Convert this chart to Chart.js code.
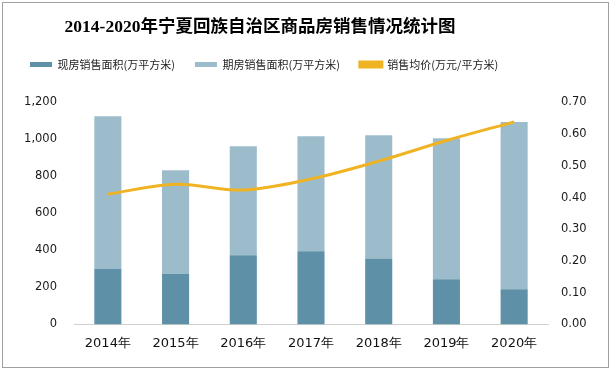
<!DOCTYPE html>
<html>
<head>
<meta charset="utf-8">
<script src="https://cdn.jsdelivr.net/npm/chart.js@4.4.0/dist/chart.umd.min.js"></script>
<style>
  body { margin: 0; background: #fff; }
  #wrap { position: absolute; left: 2px; top: 2px; width: 605px; height: 364px; border: 1px solid #a0a0a0; }
</style>
</head>
<body>
<div id="wrap"><canvas id="myChart" width="605" height="364"></canvas></div>
<script>
const years = ["2014年", "2015年", "2016年", "2017年", "2018年", "2019年", "2020年"];
// 现房销售面积 (万平方米)
const spotArea = [300, 274, 374, 395, 357, 244, 190];
// 期房销售面积 (万平方米)
const futureArea = [826, 560, 590, 623, 666, 762, 904];
// 销售均价 (万元/平方米)
const avgPrice = [0.411, 0.442, 0.424, 0.459, 0.515, 0.58, 0.639];

const ctx = document.getElementById("myChart");

// legend sits a bit higher than the plot, title is off-centre to the left
const layoutTweaks = {
  id: "layoutTweaks",
  beforeInit(chart) {
    const fit = chart.legend.fit;
    chart.legend.fit = function () {
      fit.bind(chart.legend)();
      this.height += 22.5;
    };
  },
  afterLayout(chart) {
    chart.titleBlock.right = 507;
  },
};

new Chart(ctx, {
  data: {
    labels: years,
    datasets: [
      {
        type: "line",
        label: "销售均价(万元/平方米)",
        data: avgPrice,
        yAxisID: "y1",
        borderColor: "#f0b323",
        backgroundColor: "#f0b323",
        borderWidth: 3,
        pointRadius: 0,
        tension: 0.35,
        order: 0,
      },
      {
        type: "bar",
        label: "现房销售面积(万平方米)",
        data: spotArea,
        backgroundColor: "#5e91a8",
        stack: "a",
        barPercentage: 0.4,
        categoryPercentage: 1,
        order: 1,
      },
      {
        type: "bar",
        label: "期房销售面积(万平方米)",
        data: futureArea,
        backgroundColor: "#9dbccb",
        stack: "a",
        barPercentage: 0.4,
        categoryPercentage: 1,
        order: 1,
      },
    ],
  },
  plugins: [layoutTweaks],
  options: {
    responsive: false,
    animation: false,
    layout: { padding: { left: 7, right: 0, top: 0, bottom: 5 } },
    plugins: {
      title: {
        display: true,
        text: "2014-2020年宁夏回族自治区商品房销售情况统计图",
        color: "#000",
        font: { family: "'Liberation Serif', 'Noto Sans CJK SC'", size: 17.5, weight: "bold" },
        padding: { top: 14, bottom: 1 },
      },
      legend: {
        position: "top",
        align: "start",
        labels: {
          color: "#222",
          font: { family: "'Noto Sans CJK SC'", size: 11 },
          boxWidth: 22,
          boxHeight: 5,
          padding: 20,
          sort: (a, b) => [1, 2, 0].indexOf(a.datasetIndex) - [1, 2, 0].indexOf(b.datasetIndex),
        },
      },
      tooltip: { enabled: false },
    },
    scales: {
      x: {
        stacked: true,
        grid: { display: false, drawTicks: false },
        border: { color: "#d0d0d0" },
        ticks: { color: "#111", font: { family: "'DejaVu Sans'", size: 13 }, padding: 11 },
      },
      y: {
        stacked: true,
        min: 0,
        max: 1200,
        position: "left",
        afterFit: (s) => { s.width = 64; },
        grid: { display: false, drawTicks: false },
        border: { display: false },
        ticks: {
          stepSize: 200,
          color: "#1a1a1a",
          font: { family: "'DejaVu Sans'", size: 11.5 },
          padding: 17,
          callback: (v) => v.toLocaleString("en-US"),
        },
      },
      y1: {
        min: 0,
        max: 0.7,
        position: "right",
        afterFit: (s) => { s.width = 60; },
        grid: { display: false, drawTicks: false },
        border: { display: false },
        ticks: {
          stepSize: 0.1,
          color: "#1a1a1a",
          font: { family: "'DejaVu Sans'", size: 11.5 },
          padding: 13,
          callback: (v) => v.toFixed(2),
        },
      },
    },
  },
});
</script>
</body>
</html>
